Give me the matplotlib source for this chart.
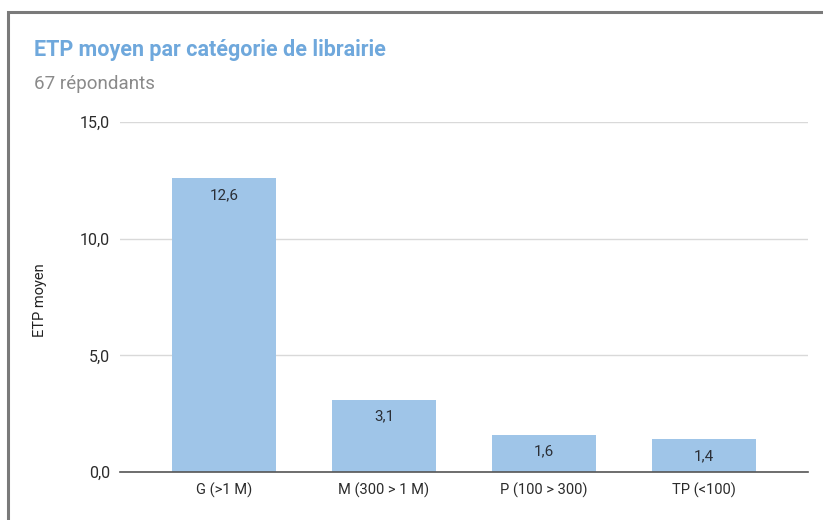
import matplotlib
matplotlib.use("Agg")
import matplotlib.pyplot as plt
from matplotlib.patches import Rectangle

categories = ["G (>1 M)", "M (300 > 1 M)", "P (100 > 300)", "TP (<100)"]
values = [12.6, 3.1, 1.6, 1.4]
value_labels = ["12,6", "3,1", "1,6", "1,4"]
yticks = [0, 5, 10, 15]
ytick_labels = ["0,0", "5,0", "10,0", "15,0"]

plt.rcParams['font.family'] = ['Roboto', 'DejaVu Sans']

W, H = 823, 520
fig = plt.figure(figsize=(W / 100, H / 100), dpi=100)
fig.patch.set_facecolor('white')

# outer frame (left and top edges visible)
fig.add_artist(Rectangle((8 / W, -0.05), 1.1, (H - 12) / H + 0.05, transform=fig.transFigure,
                         fill=False, edgecolor='#7a7a7a', linewidth=2.2))

left, right, top, bottom = 120, 808, 122, 472
ax = fig.add_axes([left / W, 1 - bottom / H, (right - left) / W, (bottom - top) / H])
ax.set_facecolor('none')

x = list(range(len(categories)))
ax.bar(x, values, width=0.65, color='#9fc5e8', zorder=2)
ax.set_xlim(-0.65, 3.65)
ax.set_ylim(0, 15)

for xi, v, lab in zip(x, values, value_labels):
    ax.annotate(lab, (xi, v), xytext=(0, -17), textcoords='offset pixels',
                ha='center', va='center', fontsize=11, color='#2b2f36', zorder=3)

ax.set_yticks(yticks)
ax.set_yticklabels(ytick_labels, fontsize=11.5, color='#2b2b2b')
ax.set_xticks(x)
ax.set_xticklabels(categories, fontsize=10.5, color='#2b2b2b')
ax.tick_params(axis='both', length=0)
ax.tick_params(axis='y', pad=7)
ax.tick_params(axis='x', pad=8)
ax.grid(axis='y', color='#d9d9d9', linewidth=1, zorder=0)
for s in ['top', 'right', 'left']:
    ax.spines[s].set_visible(False)
ax.spines['bottom'].set_color('#555555')
ax.spines['bottom'].set_linewidth(1.2)
ax.spines['bottom'].set_zorder(3)

fig.text(40 / W, 1 - 300 / H, "ETP moyen", rotation=90, ha='center', va='center',
         fontsize=10.5, color='#222222')

fig.text(34 / W, 1 - 50 / H, "ETP moyen par catégorie de librairie", ha='left', va='center',
         fontsize=15.5, fontweight='bold', color='#6fa8dc')
fig.text(34 / W, 1 - 84 / H, "67 répondants", ha='left', va='center',
         fontsize=13.5, color='#8a8a8a')

fig.savefig("out.png", dpi=100)
